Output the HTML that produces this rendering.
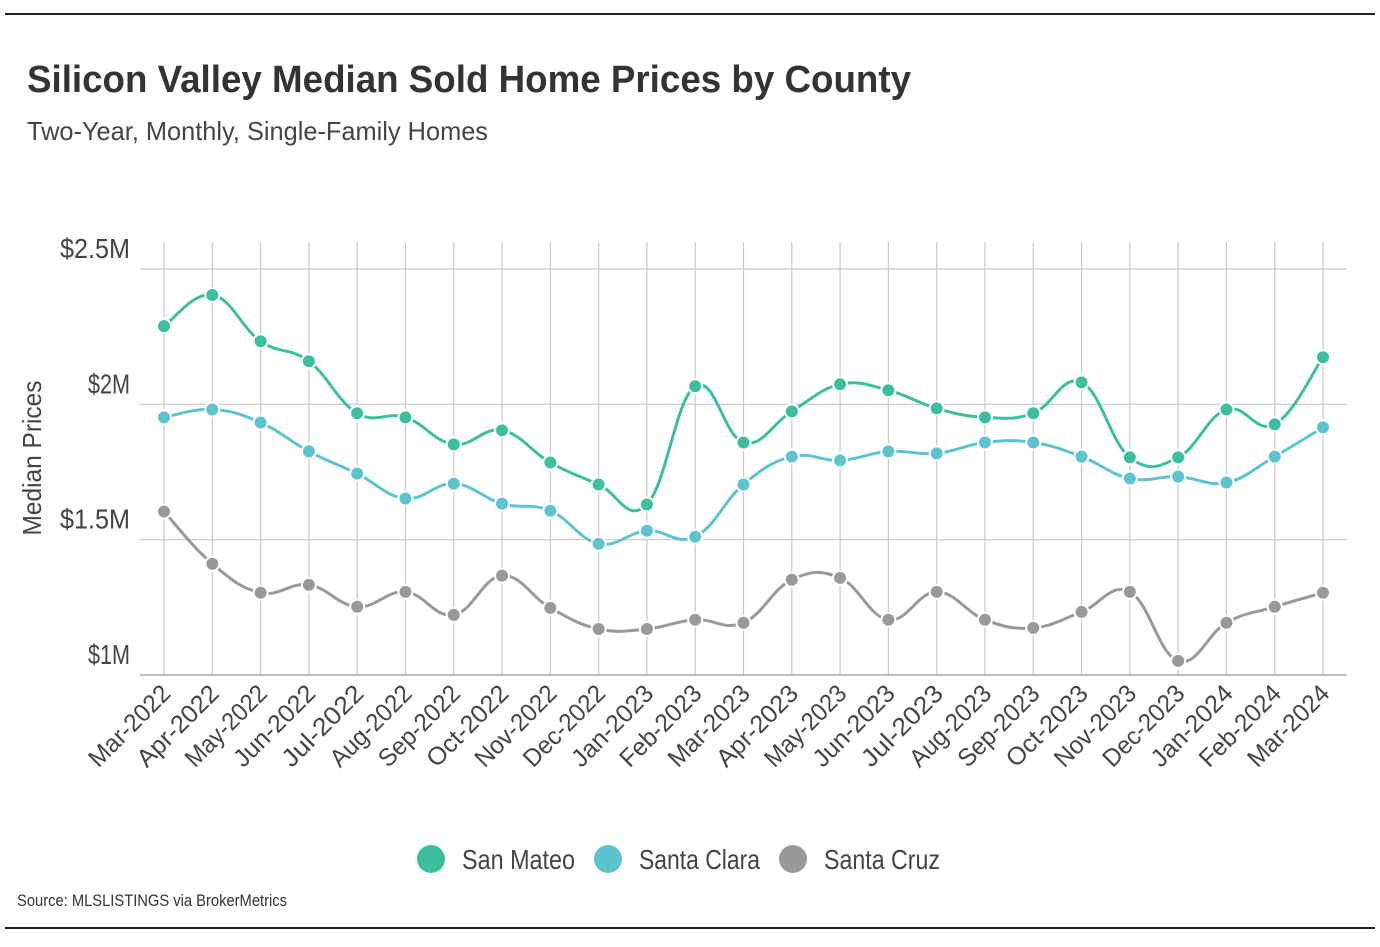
<!DOCTYPE html>
<html><head><meta charset="utf-8">
<style>
body{margin:0;background:#fff;width:1380px;height:942px;overflow:hidden;font-family:"Liberation Sans Narrow","Liberation Sans",sans-serif;}
svg text{font-family:"Liberation Sans Narrow","Liberation Sans",sans-serif;}
</style></head><body>
<svg id="chart" width="1380" height="942" xmlns="http://www.w3.org/2000/svg">
<line x1="5" y1="14" x2="1375" y2="14" stroke="#222" stroke-width="2"/>
<line x1="5" y1="928" x2="1375" y2="928" stroke="#222" stroke-width="2"/>
<text x="27" y="92" font-size="38" font-weight="bold" fill="#333" textLength="884" lengthAdjust="spacingAndGlyphs">Silicon Valley Median Sold Home Prices by County</text>
<text x="27" y="140" font-size="26" fill="#444" textLength="461" lengthAdjust="spacingAndGlyphs">Two-Year, Monthly, Single-Family Homes</text>
<text transform="translate(41,458) rotate(-90)" text-anchor="middle" font-size="26" fill="#444" textLength="155" lengthAdjust="spacingAndGlyphs">Median Prices</text>
<g id="grid"></g><g id="series"></g><g id="xlabels"></g><g id="ylabels"></g>
<g>
<circle cx="431" cy="859" r="14" fill="#3dbf9f"/>
<text x="462" y="869" font-size="28" fill="#444" textLength="113" lengthAdjust="spacingAndGlyphs">San Mateo</text>
<circle cx="608" cy="859" r="14" fill="#5dc4cf"/>
<text x="639" y="869" font-size="28" fill="#444" textLength="121" lengthAdjust="spacingAndGlyphs">Santa Clara</text>
<circle cx="793" cy="859" r="14" fill="#999"/>
<text x="824" y="869" font-size="28" fill="#444" textLength="116" lengthAdjust="spacingAndGlyphs">Santa Cruz</text>
</g>
<text x="17" y="906" font-size="17" fill="#333" textLength="270" lengthAdjust="spacingAndGlyphs">Source:  MLSLISTINGS via BrokerMetrics</text>
</svg>
<script>
const categories=["Mar-2022","Apr-2022","May-2022","Jun-2022","Jul-2022","Aug-2022","Sep-2022","Oct-2022","Nov-2022","Dec-2022","Jan-2023","Feb-2023","Mar-2023","Apr-2023","May-2023","Jun-2023","Jul-2023","Aug-2023","Sep-2023","Oct-2023","Nov-2023","Dec-2023","Jan-2024","Feb-2024","Mar-2024"];
const sanMateo=[2.289,2.404,2.233,2.159,1.967,1.952,1.852,1.904,1.785,1.704,1.630,2.067,1.859,1.974,2.074,2.052,1.985,1.952,1.967,2.081,1.804,1.804,1.981,1.926,2.174];
const santaClara=[1.952,1.981,1.933,1.826,1.744,1.652,1.707,1.633,1.607,1.485,1.533,1.511,1.704,1.807,1.793,1.826,1.819,1.859,1.859,1.807,1.726,1.733,1.711,1.807,1.915];
const santaCruz=[1.604,1.411,1.304,1.333,1.252,1.307,1.222,1.367,1.248,1.170,1.170,1.204,1.193,1.352,1.359,1.204,1.307,1.204,1.174,1.233,1.307,1.052,1.193,1.252,1.304];
const yTicks=[1,1.5,2,2.5];
const yTickLabels=["$1M","$1.5M","$2M","$2.5M"];
const NS="http://www.w3.org/2000/svg";
const x0=164,x1=1323,yTop=269,yBot=675,vMin=1,vMax=2.5;
const xs=i=>x0+(x1-x0)*i/(categories.length-1);
const ys=v=>yBot-(v-vMin)/(vMax-vMin)*(yBot-yTop);
function mk(tag,attrs,parent){const e=document.createElementNS(NS,tag);for(const k in attrs)e.setAttribute(k,attrs[k]);parent.appendChild(e);return e;}
const grid=document.getElementById('grid');
categories.forEach((c,i)=>{
  const l=mk('line',{x1:xs(i),x2:xs(i),y1:242,y2:yBot,stroke:'#c8c8c8','stroke-width':1.2},grid);
  
  
  const t=mk('text',{transform:`translate(${xs(i)+8},${yBot+20}) rotate(-45)`,'text-anchor':'end','font-size':25,fill:'#444',textLength:104,lengthAdjust:'spacingAndGlyphs'},document.getElementById('xlabels'));
  t.textContent=c;
  
  
});
yTicks.forEach((v,i)=>{
  const l=mk('line',{x1:140,x2:1347,y1:ys(v),y2:ys(v),stroke:i==0?'#999':'#c8c8c8','stroke-width':1.2},grid);
  
  
  const t=mk('text',{x:130,y:ys(v)-11,'text-anchor':'end','font-size':28,fill:'#444',textLength:yTickLabels[i].length*14,lengthAdjust:'spacingAndGlyphs'},document.getElementById('ylabels'));
  t.textContent=yTickLabels[i];
  
  
});
function path(vals){
  const p=vals.map((v,i)=>[xs(i),ys(v)]);
  let d=`M${p[0][0]},${p[0][1]}`;
  for(let i=0;i<p.length-1;i++){
    const a=p[Math.max(0,i-1)],b=p[i],c=p[i+1],e=p[Math.min(p.length-1,i+2)];
    const t=0.2;
    d+=` C${b[0]+(c[0]-a[0])*t},${b[1]+(c[1]-a[1])*t} ${c[0]-(e[0]-b[0])*t},${c[1]-(e[1]-b[1])*t} ${c[0]},${c[1]}`;
  }
  return d;
}
const sg=document.getElementById('series');
[[santaCruz,'#999','santa-cruz'],[santaClara,'#5dc4cf','santa-clara'],[sanMateo,'#3dbf9f','san-mateo']].forEach(([vals,col,name])=>{
  const g=mk('g',{},sg);
  
  
  const pl=mk('path',{d:path(vals),fill:'none',stroke:col,'stroke-width':3},g);
  
  
  vals.forEach((v,i)=>{
    const c=mk('circle',{cx:xs(i),cy:ys(v),r:7,fill:col,stroke:'#fff','stroke-width':2},g);
    
    
  });
});
</script>
</body></html>
